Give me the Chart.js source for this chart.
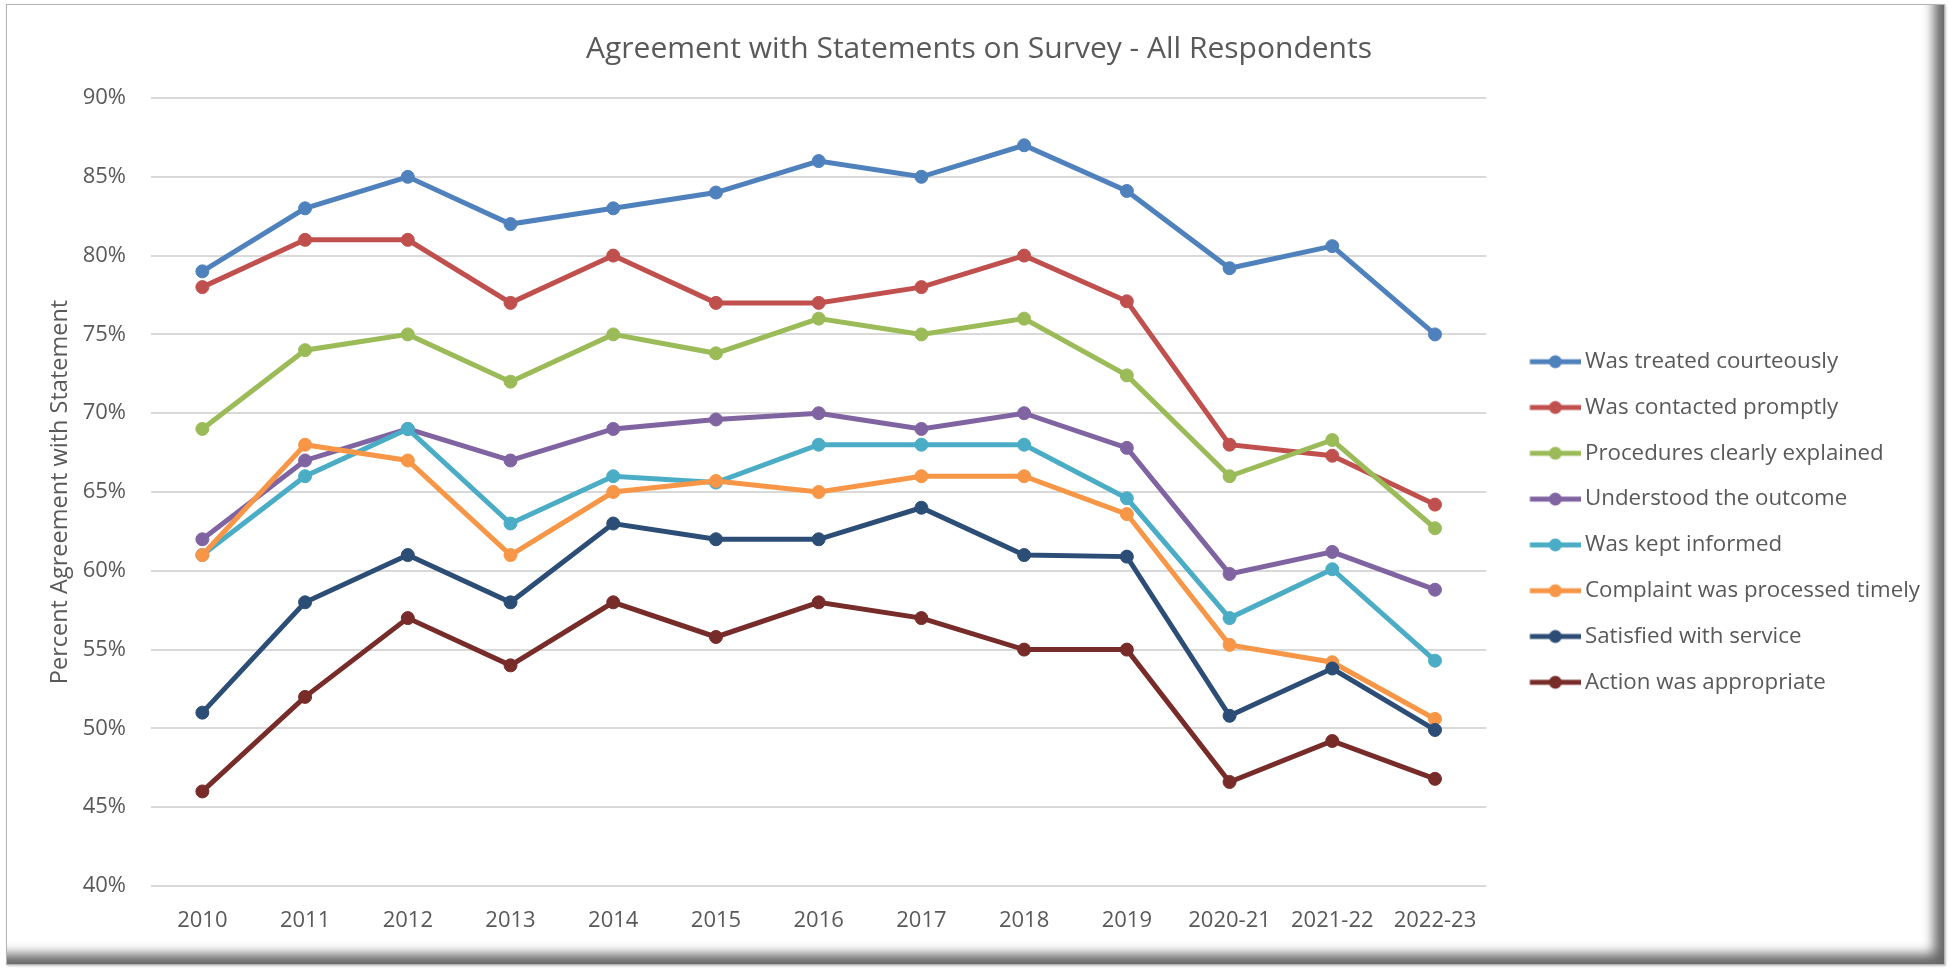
<!DOCTYPE html>
<html>
<head>
<meta charset="utf-8">
<script src="https://cdn.jsdelivr.net/npm/chart.js@4.4.1/dist/chart.umd.min.js"></script>
<style>
    html, body { margin: 0; padding: 0; background: #fff; }
    #frame {
        position: absolute; left: 6px; top: 4px; width: 1939px; height: 961px;
        box-sizing: border-box; border: 1px solid #b4b4b4; background: #fff;
        box-shadow: inset -18px -18px 12px -8px rgba(0,0,0,0.6), 1px 1px 2px rgba(0,0,0,0.25);
    }
    #chart { position: absolute; left: 0; top: 0; }
</style>
</head>
<body>
<div id="frame"></div>
<canvas id="chart" width="1955" height="969"></canvas>
<script>
// categories and series (percent agreement)
const years = ['2010', '2011', '2012', '2013', '2014', '2015', '2016', '2017', '2018', '2019', '2020-21', '2021-22', '2022-23'];
const courteous   = [79, 83, 85, 82, 83, 84, 86, 85, 87, 84.1, 79.2, 80.6, 75];
const prompt      = [78, 81, 81, 77, 80, 77, 77, 78, 80, 77.1, 68, 67.3, 64.2];
const explained   = [69, 74, 75, 72, 75, 73.8, 76, 75, 76, 72.4, 66, 68.3, 62.7];
const understood  = [62, 67, 69, 67, 69, 69.6, 70, 69, 70, 67.8, 59.8, 61.2, 58.8];
const informed    = [61, 66, 69, 63, 66, 65.6, 68, 68, 68, 64.6, 57, 60.1, 54.3];
const timely      = [61, 68, 67, 61, 65, 65.7, 65, 66, 66, 63.6, 55.3, 54.2, 50.6];
const satisfied   = [51, 58, 61, 58, 63, 62, 62, 64, 61, 60.9, 50.8, 53.8, 49.9];
const appropriate = [46, 52, 57, 54, 58, 55.8, 58, 57, 55, 55, 46.6, 49.2, 46.8];
const yTicks = [40, 45, 50, 55, 60, 65, 70, 75, 80, 85, 90];

const seriesNames = ['Was treated courteously', 'Was contacted promptly', 'Procedures clearly explained',
    'Understood the outcome', 'Was kept informed', 'Complaint was processed timely',
    'Satisfied with service', 'Action was appropriate'];
const seriesData = [courteous, prompt, explained, understood, informed, timely, satisfied, appropriate];
const colors = ['#4F81BD', '#C0504D', '#9BBB59', '#8064A2', '#4BACC6', '#F79646', '#2C4D75', '#772C2A'];

const textColor = '#595959';
const FONT = "'Open Sans', sans-serif";

// legend marker: short line with a dot in the middle
function legendIcon(color) {
    const c = document.createElement('canvas');
    c.width = 79; c.height = 16;
    const g = c.getContext('2d');
    g.strokeStyle = color;
    g.lineWidth = 5;
    g.beginPath(); g.moveTo(27.5, 8); g.lineTo(79, 8); g.stroke();
    g.fillStyle = color;
    g.beginPath(); g.arc(53, 8, 6.5, 0, Math.PI * 2); g.fill();
    return c;
}
const icons = colors.map(legendIcon);

new Chart(document.getElementById('chart'), {
    type: 'line',
    data: {
        labels: years,
        datasets: seriesData.map((d, i) => ({
            label: seriesNames[i],
            data: d,
            borderColor: colors[i],
            backgroundColor: colors[i],
            pointBackgroundColor: colors[i],
            pointBorderColor: colors[i],
            borderWidth: 5,
            pointRadius: 6.5,
            pointBorderWidth: 1,
            tension: 0,
            order: -i
        }))
    },
    options: {
        responsive: false,
        animation: false,
        layout: { padding: { left: 28, right: 25, top: 0, bottom: 0 } },
        plugins: {
            tooltip: { enabled: false },
            title: {
                display: true,
                text: 'Agreement with Statements on Survey - All Respondents',
                color: textColor,
                font: { family: FONT, size: 30, weight: 'normal' },
                padding: { top: 31, bottom: 31 }
            },
            legend: {
                position: 'right',
                align: 'center',
                title: { display: true, text: '', padding: { top: 60.6, bottom: 0 } },
                labels: {
                    usePointStyle: true,
                    pointStyleWidth: 64,
                    padding: 23.5,
                    color: textColor,
                    font: { family: FONT, size: 22.3 },
                    sort: (a, b) => a.datasetIndex - b.datasetIndex,
                    generateLabels: chart => Chart.defaults.plugins.legend.labels.generateLabels(chart)
                        .map(item => Object.assign(item, { pointStyle: icons[item.datasetIndex] }))
                }
            }
        },
        scales: {
            x: {
                offset: true,
                grid: { display: false, drawTicks: false },
                border: { display: false },
                ticks: { color: textColor, font: { family: FONT, size: 22 }, padding: 21.5, maxRotation: 0 },
                afterFit: s => { s.height = 83; }
            },
            y: {
                min: 40,
                max: 90,
                afterBuildTicks: s => { s.ticks = yTicks.map(v => ({ value: v })); },
                grid: { color: '#d9d9d9', lineWidth: 2, drawTicks: false },
                border: { display: false },
                ticks: { color: textColor, font: { family: FONT, size: 22 }, padding: 25, callback: v => v + '%' },
                title: {
                    display: true,
                    text: 'Percent Agreement with Statement',
                    color: textColor,
                    font: { family: FONT, size: 23.5 },
                    padding: { top: 18 }
                },
                afterFit: s => { s.width = 123; }
            }
        }
    }
});
</script>
</body>
</html>
